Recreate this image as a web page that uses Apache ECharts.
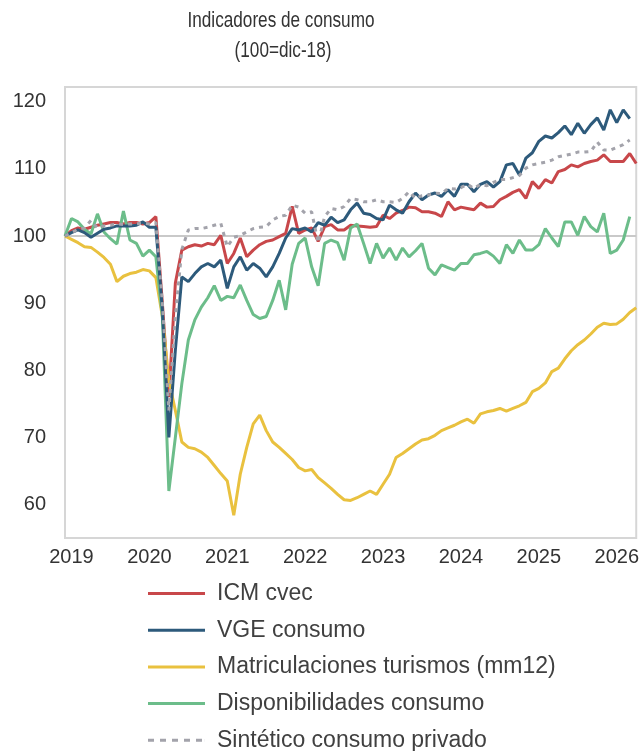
<!DOCTYPE html>
<html>
<head>
<meta charset="utf-8">
<script src="https://cdn.jsdelivr.net/npm/echarts@6/dist/echarts.min.js"></script>
<style>
html,body{margin:0;padding:0;background:#fff;}
#chart{width:642px;height:751px;}
</style>
</head>
<body>
<div id="chart"></div>
<script>
const months = ["2018-12",
"2019-01","2019-02","2019-03","2019-04","2019-05","2019-06","2019-07","2019-08","2019-09","2019-10","2019-11","2019-12",
"2020-01","2020-02","2020-03","2020-04","2020-05","2020-06","2020-07","2020-08","2020-09","2020-10","2020-11","2020-12",
"2021-01","2021-02","2021-03","2021-04","2021-05","2021-06","2021-07","2021-08","2021-09","2021-10","2021-11","2021-12",
"2022-01","2022-02","2022-03","2022-04","2022-05","2022-06","2022-07","2022-08","2022-09","2022-10","2022-11","2022-12",
"2023-01","2023-02","2023-03","2023-04","2023-05","2023-06","2023-07","2023-08","2023-09","2023-10","2023-11","2023-12",
"2024-01","2024-02","2024-03","2024-04","2024-05","2024-06","2024-07","2024-08","2024-09","2024-10","2024-11","2024-12",
"2025-01","2025-02","2025-03","2025-04","2025-05","2025-06","2025-07","2025-08","2025-09","2025-10","2025-11","2025-12",
"2026-01","2026-02","2026-03","2026-04"];

const icmCvec = [100,100.8,101.2,101.0,101.3,101.6,101.8,102.0,102.0,101.8,102.0,102.0,101.8,102.0,102.9,
90,76,93,97.9,98.4,98.7,98.5,98.9,98.7,100.1,
95.9,97.4,99.7,96.9,97.9,98.7,99.2,99.4,99.9,100.4,104.4,100.4,
100.9,101.2,99.2,101.4,101.7,100.9,100.9,101.6,101.5,101.4,101.3,101.4,
103.1,102.6,103.4,103.8,104.3,104.2,103.6,103.6,103.4,102.9,105.1,103.9,
104.3,104.1,103.9,104.9,104.3,104.4,105.4,105.9,106.5,106.9,105.6,108.1,
107.1,108.4,107.9,109.6,109.9,110.6,110.3,110.8,111.1,111.3,112.1,111.1,
111.1,111.1,112.3,110.8];

const vgeConsumo = [100,100.5,100.9,100.5,99.8,100.4,101.0,101.2,101.5,101.5,101.5,101.6,102.1,
101.3,101.3,89,70,83,93.9,93.2,94.4,95.4,95.9,95.4,96.4,
92.2,95.4,96.9,94.9,95.9,95.2,93.9,95.4,97.4,99.7,101.1,100.9,
101.2,100.6,102.0,101.6,102.8,102.0,102.4,103.9,104.9,103.4,103.2,102.6,
102.4,104.6,103.9,103.4,105.1,106.4,105.4,106.1,106.4,105.9,106.9,105.9,
107.7,107.7,106.6,107.7,108.1,107.3,108.1,110.6,110.8,109.1,111.6,112.4,
114.1,114.9,114.6,115.4,116.4,115.1,116.8,115.3,116.6,117.6,115.8,118.8,
116.9,118.8,117.5];

const matriculaciones = [100,99.5,99.0,98.4,98.3,97.6,96.8,95.8,93.2,94.0,94.4,94.6,95.0,
94.8,93.8,88,78.5,74,69.3,68.5,68.3,67.8,67.0,65.8,64.6,
63.5,58.4,64.5,68.5,72,73.3,71,69.3,68.5,67.6,66.7,65.5,
65,65.2,64.0,63.2,62.4,61.5,60.7,60.6,61.0,61.5,62.0,61.5,
63.0,64.5,67.0,67.6,68.3,69.0,69.6,69.8,70.3,71.0,71.4,71.8,
72.3,72.7,72.1,73.5,73.8,74.0,74.3,73.9,74.3,74.7,75.2,76.8,
77.3,78.1,79.8,80.3,81.7,82.9,83.8,84.5,85.4,86.4,87.0,86.8,
86.9,87.6,88.6,89.3];

const disponibilidades = [100,102.6,102.1,101.0,100.3,103.3,100.6,99.6,98.8,103.7,99.4,98.9,97.0,
97.9,96.9,88,62,70,78,84.5,87.5,89.4,90.8,92.6,90.4,
91.0,90.8,92.7,90.4,88.3,87.7,88.0,90.4,93.4,89.0,95.8,98.9,
99.7,95.4,92.6,98.9,99.4,99.0,96.4,101.2,101.8,98.9,95.9,98.9,
96.7,98.2,96.4,98.2,96.9,97.8,98.9,95.2,94.2,95.7,95.3,94.9,
95.9,95.9,97.2,97.4,97.7,97.0,95.9,98.7,97.4,99.4,97.9,97.9,
98.7,101.1,99.7,98.4,102.1,102.1,100.1,102.9,101.4,100.6,103.4,97.4,
97.9,99.4,102.9];

const sintetico = [100,100.5,101,101.2,102.3,101.2,101.5,101.6,101.8,101.7,101.8,101.8,101.9,
101.8,102.0,90,74,88,98,100.9,101.1,101.1,101.3,101.6,101.9,
98.4,99.8,100.1,100.6,101.1,101.3,101.4,102.4,102.9,103.1,104.6,104.3,
103.4,103.6,99.0,102.9,104.1,103.9,104.4,105.6,105.4,105.1,105.1,105.4,
105.1,105.1,105.0,105.6,106.6,105.6,106.0,106.1,106.4,106.3,107.1,107.0,
107.2,107.7,107.1,107.7,107.5,108.0,108.4,108.4,108.7,109.0,110.1,110.6,
110.8,111.0,111.3,111.8,112.0,112.2,112.5,112.5,112.6,114.0,112.8,112.8,
113.2,113.6,114.3];

const yTickLabels = [60,70,80,90,100,110,120];
const titleLines = ["Indicadores de consumo","(100=dic-18)"];
const seriesNames = ["ICM cvec","VGE consumo","Matriculaciones turismos (mm12)","Disponibilidades consumo","Sintético consumo privado"];
const seriesColors = ["#c8474a","#2d5a7b","#e9c13f","#6cbd8a","#a3a3ab"];

const chart = echarts.init(document.getElementById('chart'), null, {renderer:'canvas'});
const baseFont = 'Liberation Sans, Arial, sans-serif';
const mk = (name, data, color, dashed, z) => ({
  name, type:'line', data, symbol:'none', showSymbol:false, smooth:false, z,
  lineStyle:{color, width:3, type: dashed ? [4,5] : 'solid', cap:'butt'},
  itemStyle:{color}, emphasis:{disabled:true}
});
const s0 = mk(seriesNames[0], icmCvec, seriesColors[0], false, 3);
s0.markLine = {silent:true, symbol:['none','none'], label:{show:false},
  lineStyle:{color:'#c9c9c9', width:2, type:'solid'}, data:[{yAxis:100}], z:1};

const solidIcon = 'path://M0,0h57v3h-57z';
const dashIcon = 'path://M0,0h6v3h-6z M12,0h6v3h-6z M24,0h6v3h-6z M36,0h6v3h-6z M48,0h6v3h-6z M56.9,0h0.1v3h-0.1z';

const option = {
  animation:false,
  backgroundColor:'#fff',
  graphic:[
    {type:'text', x:281, y:21, scaleX:0.78,
     style:{text:titleLines[0], fontFamily:baseFont, fontSize:22, fill:'#333', align:'center', verticalAlign:'middle'}},
    {type:'text', x:283, y:51, scaleX:0.78,
     style:{text:titleLines[1], fontFamily:baseFont, fontSize:22, fill:'#333', align:'center', verticalAlign:'middle'}}
  ],
  grid:{left:65, right:5, top:87, bottom:213, show:true, borderColor:'#d6d6d6', borderWidth:2, backgroundColor:'transparent'},
  legend:{
    show:true, orient:'vertical', left:148, top:582, height:175, padding:0,
    itemWidth:57, itemHeight:3, itemGap:13.7,
    symbolKeepAspect:false,
    data: seriesNames.map((n,i) => ({name:n, icon: i===4 ? dashIcon : solidIcon, itemStyle:{color:seriesColors[i]}})),
    textStyle:{fontFamily:baseFont, fontSize:23, color:'#404040', padding:[0,0,0,7]}
  },
  xAxis:{
    type:'category', data:months, boundaryGap:false,
    axisLine:{show:false}, axisTick:{show:false}, splitLine:{show:false},
    axisLabel:{
      interval:(idx, val) => val.endsWith('-01'),
      formatter:(val) => val.slice(0,4),
      fontFamily:baseFont, fontSize:20, color:'#333', margin:9
    }
  },
  yAxis:{
    type:'value', min:55, max:122.2, interval:5,
    axisLine:{show:false}, axisTick:{show:false}, splitLine:{show:false},
    axisLabel:{
      formatter:(v) => yTickLabels.includes(v) ? String(v) : '',
      fontFamily:baseFont, fontSize:20, color:'#333', margin:19
    }
  },
  series:[
    s0,
    mk(seriesNames[1], vgeConsumo, seriesColors[1], false, 4),
    mk(seriesNames[2], matriculaciones, seriesColors[2], false, 3),
    mk(seriesNames[3], disponibilidades, seriesColors[3], false, 3),
    mk(seriesNames[4], sintetico, seriesColors[4], true, 5)
  ]
};
chart.setOption(option);
</script>
</body>
</html>
